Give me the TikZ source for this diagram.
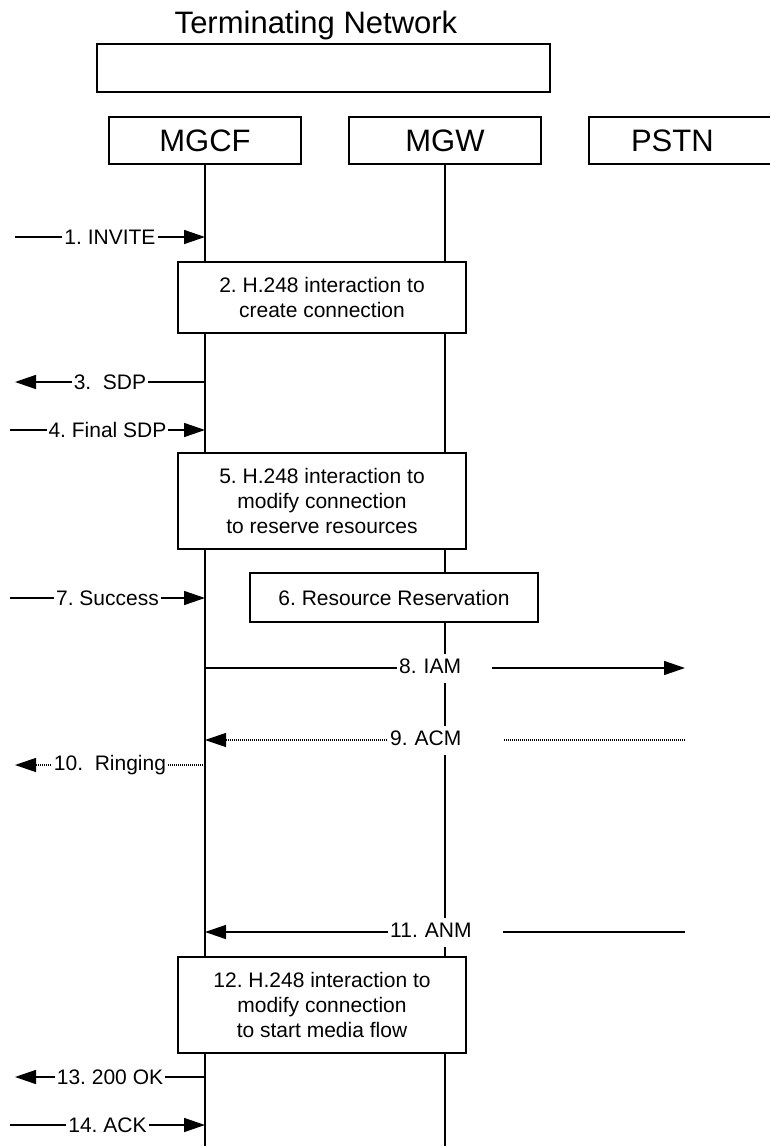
\documentclass[tikz,border=0pt]{standalone}
\usepackage{fontspec}
\setmainfont{Liberation Sans}
\frenchspacing
\usetikzlibrary{arrows.meta,positioning}
\tikzset{
  actor/.style={draw,line width=2pt,minimum width=192pt,minimum height=47pt,inner sep=0pt,font=\fontsize{31}{36}\selectfont},
  procbox/.style={draw,fill=white,line width=2pt,minimum width=288pt,inner sep=0pt,align=center,font=\fontsize{21}{25}\selectfont},
  msg/.style={line width=1.5pt,-{Triangle[length=21pt,width=14pt]}},
  dotmsg/.style={msg,line width=1.2pt,dash pattern=on 1pt off 1pt},
  lbl/.style={fill=white,inner xsep=2pt,inner ysep=1pt,font=\fontsize{21}{25}\selectfont},
  gaplbl/.style={lbl,anchor=west,align=left,text height=15pt,text depth=4pt,inner ysep=5pt}
}
\begin{document}
\begin{tikzpicture}[x=1pt,y=-1pt]
\useasboundingbox (0,0) rectangle (769,1146);
\coordinate (bottom) at (0,1146);
%network header
\node[font=\fontsize{31}{36}\selectfont,anchor=base] (title) at (316,33) {Terminating Network};
\node[actor,minimum width=453pt,minimum height=48pt] (net) at (323.5,68) {};
\node[actor] (mgcf) at (205,140.5) {MGCF};
\node[actor] (mgw) at (445,140.5) {MGW};
\node[actor,anchor=west,text width=150pt,inner xsep=42pt,align=left] (pstn) at (588,140.5) {PSTN};
%lifelines
\draw[line width=2pt] (mgcf.south) -- (mgcf.south |- bottom);
\draw[line width=2pt] (mgw.south) -- (mgw.south |- bottom);
%procedure boxes
\node[procbox,minimum height=71pt] (h2) at (322,297.5) {2. H.248 interaction to\\create connection};
\node[procbox,minimum height=96pt] (h5) at (322,501) {5. H.248 interaction to\\modify connection\\to reserve resources};
\node[procbox,minimum height=49pt] (res) at (394,597.5) {6. Resource Reservation};
\node[procbox,minimum height=96pt] (h12) at (322,1005) {12. H.248 interaction to\\modify connection\\to start media flow};
%free ends of the messages
\coordinate (m1) at (15,237);
\coordinate (m3) at (15,382);
\coordinate (m4) at (10,430);
\coordinate (m7) at (10,598);
\coordinate (m8) at (685,668);
\coordinate (m9) at (685,740);
\coordinate (m10) at (15,765);
\coordinate (m11) at (685,932);
\coordinate (m13) at (15,1077);
\coordinate (m14) at (10,1125);
%sip side
\draw[msg] (m1) -- node[lbl]{1. INVITE} (m1 -| mgcf);
\draw[msg] (m3 -| mgcf) -- node[lbl]{3.\ \ SDP} (m3);
\draw[msg] (m4) -- node[lbl]{4. Final SDP} (m4 -| mgcf);
\draw[msg] (m7) -- node[lbl]{7. Success} (m7 -| mgcf);
\draw[dotmsg] (m10 -| mgcf) -- node[lbl]{10.\ \ Ringing} (m10);
\draw[msg] (m13 -| mgcf) -- node[lbl]{13. 200 OK} (m13);
\draw[msg] (m14) -- node[lbl]{14. ACK} (m14 -| mgcf);
%isup side
\draw[msg] (m8 -| mgcf) -- (m8);
\node[gaplbl,text width=91pt] (iam) at (397,668) {8. IAM};
\draw[dotmsg] (m9) -- (m9 -| mgcf);
\node[gaplbl,text width=111pt] (acm) at (388,740) {9. ACM};
\draw[msg] (m11) -- (m11 -| mgcf);
\node[gaplbl,text width=111pt] (anm) at (388,932) {11. ANM};
\end{tikzpicture}
\end{document}
